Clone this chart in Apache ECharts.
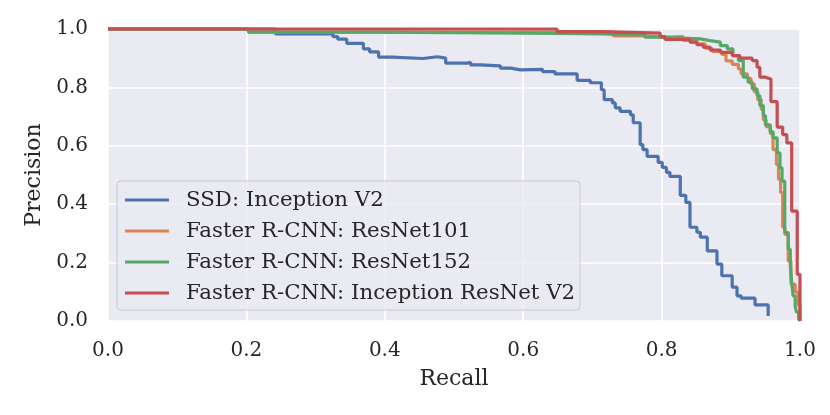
<!DOCTYPE html>
<html>
<head>
<meta charset="utf-8">
<script src="https://cdn.jsdelivr.net/npm/echarts@6/dist/echarts.min.js"></script>
<style>html,body{margin:0;padding:0;background:#fff}#c{width:830px;height:415px}</style>
</head>
<body>
<div id="c"></div>
<script>
const seriesNames = ['SSD: Inception V2', 'Faster R-CNN: ResNet101', 'Faster R-CNN: ResNet152', 'Faster R-CNN: Inception ResNet V2'];
const xTicks = [0, 0.2, 0.4, 0.6, 0.8, 1.0];
const yTicks = [0, 0.2, 0.4, 0.6, 0.8, 1.0];

const ssdRecall = [0, 0.242, 0.325, 0.332, 0.345, 0.369, 0.378, 0.391, 0.411, 0.455, 0.476, 0.488, 0.519, 0.524, 0.538, 0.567, 0.582, 0.596, 0.628, 0.646, 0.678, 0.697, 0.713, 0.717, 0.729, 0.733, 0.740, 0.755, 0.759, 0.769, 0.773, 0.779, 0.795, 0.801, 0.807, 0.812, 0.827, 0.835, 0.841, 0.851, 0.856, 0.866, 0.880, 0.887, 0.902, 0.909, 0.915, 0.935, 0.954];
const ssdPrecision = [1.0, 0.983, 0.974, 0.965, 0.951, 0.932, 0.922, 0.904, 0.899, 0.905, 0.900, 0.883, 0.886, 0.877, 0.874, 0.866, 0.860, 0.862, 0.854, 0.846, 0.824, 0.816, 0.792, 0.758, 0.747, 0.730, 0.718, 0.706, 0.679, 0.604, 0.587, 0.564, 0.543, 0.526, 0.509, 0.495, 0.430, 0.406, 0.321, 0.304, 0.287, 0.240, 0.195, 0.155, 0.116, 0.086, 0.078, 0.055, 0.017];

const r101Recall = [0, 0.203, 0.730, 0.784, 0.801, 0.831, 0.851, 0.863, 0.873, 0.887, 0.893, 0.902, 0.911, 0.915, 0.924, 0.929, 0.934, 0.939, 0.944, 0.947, 0.951, 0.957, 0.961, 0.966, 0.969, 0.972, 0.975, 0.978, 0.983, 0.987, 0.993, 0.997, 1.0];
const r101Precision = [1.0, 0.989, 0.976, 0.971, 0.974, 0.961, 0.949, 0.934, 0.923, 0.913, 0.891, 0.879, 0.863, 0.846, 0.831, 0.812, 0.785, 0.758, 0.724, 0.689, 0.666, 0.642, 0.587, 0.536, 0.485, 0.440, 0.321, 0.297, 0.205, 0.126, 0.099, 0.055, 0.0];

const r152Recall = [0, 0.203, 0.394, 0.654, 0.711, 0.776, 0.798, 0.856, 0.870, 0.885, 0.895, 0.903, 0.911, 0.918, 0.925, 0.931, 0.938, 0.942, 0.947, 0.950, 0.957, 0.961, 0.967, 0.971, 0.974, 0.978, 0.983, 0.986, 0.988, 0.990, 0.993, 0.995, 0.998, 1.0];
const r152Precision = [1.0, 0.989, 0.985, 0.983, 0.980, 0.972, 0.966, 0.960, 0.955, 0.943, 0.932, 0.909, 0.892, 0.835, 0.818, 0.795, 0.772, 0.738, 0.704, 0.672, 0.649, 0.627, 0.576, 0.525, 0.479, 0.303, 0.246, 0.189, 0.132, 0.086, 0.052, 0.030, 0.007, 0.0];

const incRecall = [0, 0.649, 0.711, 0.798, 0.805, 0.841, 0.851, 0.860, 0.870, 0.885, 0.902, 0.913, 0.931, 0.938, 0.942, 0.950, 0.958, 0.967, 0.975, 0.981, 0.988, 0.996, 1.0];
const incPrecision = [1.0, 0.991, 0.986, 0.974, 0.964, 0.955, 0.946, 0.938, 0.928, 0.920, 0.909, 0.900, 0.892, 0.869, 0.835, 0.829, 0.751, 0.664, 0.638, 0.610, 0.376, 0.160, 0.0];

const colors = ['#4C72B0', '#DD8452', '#55A868', '#C44E52'];
const zip = (a, b) => a.map((v, i) => [v, b[i]]);
const allData = [zip(ssdRecall, ssdPrecision), zip(r101Recall, r101Precision), zip(r152Recall, r152Precision), zip(incRecall, incPrecision)];

const FONT = 'DejaVu Serif';
const TXT = '#262626';
const chart = echarts.init(document.getElementById('c'), null, {renderer: 'canvas'});
chart.setOption({
  animation: false,
  color: colors,
  grid: {left: 108, right: 30, top: 29, bottom: 94, show: true, backgroundColor: '#EAEAF2', borderWidth: 0},
  legend: {
    orient: 'vertical', left: 117, top: 181,
    data: seriesNames.map(n => ({name: n, icon: 'rect'})),
    itemWidth: 44, itemHeight: 3, itemGap: 9,
    padding: [8, 5, 6, 8],
    backgroundColor: 'rgba(234,234,242,0.8)', borderColor: '#cccccc', borderWidth: 1, borderRadius: 4,
    textStyle: {fontFamily: FONT, fontSize: 21.3, color: TXT, lineHeight: 22, padding: [0, 0, 0, 12]}
  },
  xAxis: {
    type: 'value', min: 0, max: 1, interval: 0.2,
    name: 'Recall', nameLocation: 'middle', nameGap: 47,
    nameTextStyle: {fontFamily: FONT, fontSize: 22, color: TXT},
    axisLine: {show: false}, axisTick: {show: false},
    axisLabel: {fontFamily: FONT, fontSize: 20, color: TXT, margin: 20, formatter: v => xTicks.includes(Math.round(v*10)/10) ? v.toFixed(1) : ''},
    splitLine: {show: true, lineStyle: {color: '#ffffff', width: 1.6}}
  },
  yAxis: {
    type: 'value', min: 0, max: 1, interval: 0.2,
    name: 'Precision', nameLocation: 'middle', nameGap: 60,
    nameTextStyle: {fontFamily: FONT, fontSize: 22, color: TXT},
    axisLine: {show: false}, axisTick: {show: false},
    axisLabel: {fontFamily: FONT, fontSize: 20, color: TXT, margin: 20, formatter: v => yTicks.includes(Math.round(v*10)/10) ? v.toFixed(1) : ''},
    splitLine: {show: true, lineStyle: {color: '#ffffff', width: 1.6}}
  },
  series: allData.map((d, i) => ({
    name: seriesNames[i], type: 'line', step: 'end', data: d,
    showSymbol: false, symbol: 'none', clip: false,
    lineStyle: {width: 3.2, color: colors[i]}, itemStyle: {color: colors[i]}, z: 2 + i
  }))
});
</script>
</body>
</html>
